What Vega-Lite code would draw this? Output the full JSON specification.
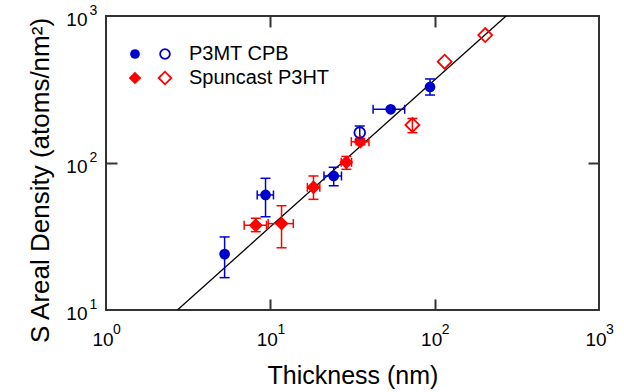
{
  "$schema": "https://vega.github.io/schema/vega-lite/v6.json",
  "width": 493,
  "height": 294,
  "autosize": "none",
  "padding": {"left": 106, "top": 16, "right": 25, "bottom": 82},
  "background": "white",
  "config": {
    "font": "Liberation Sans",
    "view": {"stroke": "#333", "strokeWidth": 2},
    "axis": {"labelColor": "#000", "titleColor": "#000", "grid": false, "domain": false, "labelFlush": false, "labelOverlap": false, "titleFontWeight": "normal", "titleFontSize": 25, "labelFont": "Liberation Sans", "titleFont": "Liberation Sans"},
    "legend": {"labelFont": "Liberation Sans", "labelColor": "#000"}
  },
  "datasets": {
    "pts": [
      {"s": "P3MT CPB", "f": 1, "x": 5.27, "y": 24.0, "ylo": 16.6, "yhi": 31.4},
      {"s": "P3MT CPB", "f": 1, "x": 9.35, "y": 60.6, "xlo": 8.32, "xhi": 10.45, "ylo": 43.1, "yhi": 78.7},
      {"s": "P3MT CPB", "f": 1, "x": 24.3, "y": 81.6, "xlo": 21.2, "xhi": 27.1, "ylo": 70.0, "yhi": 93.5},
      {"s": "P3MT CPB", "f": 1, "x": 54.0, "y": 232, "xlo": 42.2, "xhi": 65.7},
      {"s": "P3MT CPB", "f": 1, "x": 93.7, "y": 329, "ylo": 290, "yhi": 373},
      {"s": "P3MT CPB", "f": 0, "x": 35.0, "y": 161, "ylo": 145, "yhi": 178.5},
      {"s": "Spuncast P3HT", "f": 1, "x": 8.16, "y": 37.7, "xlo": 6.93, "xhi": 9.48, "ylo": 34.1, "yhi": 42.1},
      {"s": "Spuncast P3HT", "f": 1, "x": 11.7, "y": 38.7, "xlo": 9.7, "xhi": 13.8, "ylo": 26.5, "yhi": 51.2},
      {"s": "Spuncast P3HT", "f": 1, "x": 18.3, "y": 68.3, "xlo": 16.8, "xhi": 20.0, "ylo": 56.6, "yhi": 81.6},
      {"s": "Spuncast P3HT", "f": 1, "x": 29.0, "y": 101, "xlo": 27.0, "xhi": 31.2, "ylo": 90.6, "yhi": 110.9},
      {"s": "Spuncast P3HT", "f": 1, "x": 35.3, "y": 139.6, "xlo": 31.1, "xhi": 39.8, "ylo": 133, "yhi": 147},
      {"s": "Spuncast P3HT", "f": 0, "x": 73.2, "y": 181.4, "ylo": 160.8, "yhi": 201},
      {"s": "Spuncast P3HT", "f": 0, "x": 115, "y": 489},
      {"s": "Spuncast P3HT", "f": 0, "x": 203, "y": 742}
    ],
    "fit": [
      {"x": 2.72, "y": 10},
      {"x": 272, "y": 1000}
    ]
  },
  "layer": [
    {
      "data": {"name": "fit"},
      "mark": {"type": "line", "color": "#000", "strokeWidth": 1.3, "clip": true},
      "encoding": {
        "x": {"field": "x", "type": "quantitative", "scale": {"type": "log", "domain": [1, 1000], "nice": false},
          "axis": {"orient": "bottom", "values": [1, 10, 100, 1000], "labelExpr": "'10'", "ticks": false, "labelFontSize": 19, "labelPadding": 20, "labelBaseline": "top", "labelOffset": -3.5, "labelAlign": "center", "title": "Thickness (nm)", "titleBaseline": "alphabetic", "titleY": 73}},
        "y": {"field": "y", "type": "quantitative", "scale": {"type": "log", "domain": [10, 1000], "nice": false},
          "axis": {"orient": "left", "values": [10, 100, 1000], "labelExpr": "'10'", "ticks": false, "labelFontSize": 19, "labelPadding": 19, "labelAlign": "right", "labelBaseline": "middle", "labelOffset": 3, "title": "S Areal Density (atoms/nm²)", "titleFontSize": 26, "titleBaseline": "alphabetic", "titleAlign": "center", "titleX": -58, "titleY": 164}}
      }
    },
    {
      "data": {"name": "pts"},
      "transform": [{"filter": "isValid(datum.ylo)"}],
      "mark": {"type": "rule", "strokeWidth": 1.5},
      "encoding": {
        "x": {"field": "x", "type": "quantitative", "scale": {"type": "log", "domain": [1, 1000], "nice": false},
          "axis": {"orient": "bottom", "values": [1, 10, 100, 1000], "labelExpr": "format(log(datum.value)/LN10, '.0f')", "ticks": false, "labelFontSize": 14, "labelPadding": 12, "labelBaseline": "top", "labelOffset": 10.5, "labelAlign": "center", "title": null}},
        "y": {"field": "ylo", "type": "quantitative", "scale": {"type": "log", "domain": [10, 1000], "nice": false},
          "axis": {"orient": "left", "values": [10, 100, 1000], "labelExpr": "format(log(datum.value)/LN10, '.0f')", "ticks": false, "labelFontSize": 14, "labelPadding": 17, "labelAlign": "left", "labelBaseline": "middle", "labelOffset": -6, "title": null}},
        "y2": {"field": "yhi"},
        "color": {"condition": {"test": "datum.s === 'P3MT CPB'", "value": "#0000cc"}, "value": "#ff0000"}
      }
    },
    {
      "data": {"name": "pts"},
      "transform": [{"filter": "isValid(datum.xlo)"}],
      "mark": {"type": "rule", "strokeWidth": 1.5},
      "encoding": {
        "x": {"field": "xlo", "type": "quantitative", "scale": {"type": "log", "domain": [1, 1000], "nice": false},
          "axis": {"orient": "bottom", "values": [10, 100], "labels": false, "ticks": true, "tickSize": -11, "tickWidth": 2, "tickColor": "#333", "title": null}},
        "x2": {"field": "xhi"},
        "y": {"field": "y", "type": "quantitative", "scale": {"type": "log", "domain": [10, 1000], "nice": false},
          "axis": {"orient": "left", "values": [100], "labels": false, "ticks": true, "tickSize": -11, "tickWidth": 2, "tickColor": "#333", "title": null}},
        "color": {"condition": {"test": "datum.s === 'P3MT CPB'", "value": "#0000cc"}, "value": "#ff0000"}
      }
    },
    {
      "data": {"name": "pts"},
      "transform": [{"filter": "isValid(datum.ylo)"}],
      "mark": {"type": "tick", "orient": "horizontal", "size": 10, "thickness": 1.5, "opacity": 1},
      "encoding": {
        "x": {"field": "x", "type": "quantitative", "scale": {"type": "log", "domain": [1, 1000], "nice": false}, "axis": null},
        "y": {"field": "ylo", "type": "quantitative", "scale": {"type": "log", "domain": [10, 1000], "nice": false}, "axis": null},
        "color": {"condition": {"test": "datum.s === 'P3MT CPB'", "value": "#0000cc"}, "value": "#ff0000"}
      }
    },
    {
      "data": {"name": "pts"},
      "transform": [{"filter": "isValid(datum.yhi)"}],
      "mark": {"type": "tick", "orient": "horizontal", "size": 10, "thickness": 1.5, "opacity": 1},
      "encoding": {
        "x": {"field": "x", "type": "quantitative", "scale": {"type": "log", "domain": [1, 1000], "nice": false}, "axis": null},
        "y": {"field": "yhi", "type": "quantitative", "scale": {"type": "log", "domain": [10, 1000], "nice": false}, "axis": null},
        "color": {"condition": {"test": "datum.s === 'P3MT CPB'", "value": "#0000cc"}, "value": "#ff0000"}
      }
    },
    {
      "data": {"name": "pts"},
      "transform": [{"filter": "isValid(datum.xlo)"}],
      "mark": {"type": "tick", "orient": "vertical", "size": 9, "thickness": 1.5, "opacity": 1},
      "encoding": {
        "x": {"field": "xlo", "type": "quantitative", "scale": {"type": "log", "domain": [1, 1000], "nice": false}, "axis": null},
        "y": {"field": "y", "type": "quantitative", "scale": {"type": "log", "domain": [10, 1000], "nice": false}, "axis": null},
        "color": {"condition": {"test": "datum.s === 'P3MT CPB'", "value": "#0000cc"}, "value": "#ff0000"}
      }
    },
    {
      "data": {"name": "pts"},
      "transform": [{"filter": "isValid(datum.xhi)"}],
      "mark": {"type": "tick", "orient": "vertical", "size": 9, "thickness": 1.5, "opacity": 1},
      "encoding": {
        "x": {"field": "xhi", "type": "quantitative", "scale": {"type": "log", "domain": [1, 1000], "nice": false}, "axis": null},
        "y": {"field": "y", "type": "quantitative", "scale": {"type": "log", "domain": [10, 1000], "nice": false}, "axis": null},
        "color": {"condition": {"test": "datum.s === 'P3MT CPB'", "value": "#0000cc"}, "value": "#ff0000"}
      }
    },
    {
      "data": {"name": "pts"},
      "transform": [{"filter": "datum.f === 1"}],
      "mark": {"type": "point", "filled": true, "size": 115, "opacity": 1},
      "encoding": {
        "x": {"field": "x", "type": "quantitative", "scale": {"type": "log", "domain": [1, 1000], "nice": false},
          "axis": {"orient": "top", "values": [10, 100], "labels": false, "ticks": true, "tickSize": -11, "tickWidth": 2, "tickColor": "#333", "title": null}},
        "y": {"field": "y", "type": "quantitative", "scale": {"type": "log", "domain": [10, 1000], "nice": false},
          "axis": {"orient": "right", "values": [100], "labels": false, "ticks": true, "tickSize": -11, "tickWidth": 2, "tickColor": "#333", "title": null}},
        "color": {"field": "s", "type": "nominal", "scale": {"domain": ["P3MT CPB", "Spuncast P3HT"], "range": ["#0000cc", "#ff0000"]},
          "legend": {"orient": "none", "legendX": 19, "legendY": 28, "title": null, "labelFontSize": 20, "labelExpr": "''", "symbolSize": 95, "rowPadding": 4, "padding": 0, "labelOffset": 14}},
        "shape": {"field": "s", "type": "nominal", "scale": {"domain": ["P3MT CPB", "Spuncast P3HT"], "range": ["circle", "M-1.3,0L0,-1.3L1.3,0L0,1.3Z"]},
          "legend": {"orient": "none", "legendX": 19, "legendY": 28, "title": null, "labelFontSize": 20, "labelExpr": "''", "symbolSize": 95, "rowPadding": 4, "padding": 0, "labelOffset": 14}}
      }
    },
    {
      "data": {"name": "pts"},
      "transform": [{"filter": "datum.f === 0"}],
      "mark": {"type": "point", "filled": false, "size": 115, "strokeWidth": 1.8, "opacity": 1},
      "encoding": {
        "x": {"field": "x", "type": "quantitative", "scale": {"type": "log", "domain": [1, 1000], "nice": false}, "axis": null},
        "y": {"field": "y", "type": "quantitative", "scale": {"type": "log", "domain": [10, 1000], "nice": false}, "axis": null},
        "color": {"field": "s", "type": "nominal", "scale": {"domain": ["P3MT CPB", "Spuncast P3HT"], "range": ["#0000cc", "#ff0000"]},
          "legend": {"orient": "none", "legendX": 49, "legendY": 28, "title": null, "labelFontSize": 20, "symbolSize": 95, "symbolStrokeWidth": 1.8, "rowPadding": 4, "padding": 0, "labelOffset": 14}},
        "shape": {"field": "s", "type": "nominal", "scale": {"domain": ["P3MT CPB", "Spuncast P3HT"], "range": ["circle", "M-1.3,0L0,-1.3L1.3,0L0,1.3Z"]},
          "legend": {"orient": "none", "legendX": 49, "legendY": 28, "title": null, "labelFontSize": 20, "symbolSize": 95, "symbolStrokeWidth": 1.8, "rowPadding": 4, "padding": 0, "labelOffset": 14}}
      }
    }
  ],
  "resolve": {"axis": {"x": "independent", "y": "independent"}, "scale": {"color": "independent", "shape": "independent"}}
}
